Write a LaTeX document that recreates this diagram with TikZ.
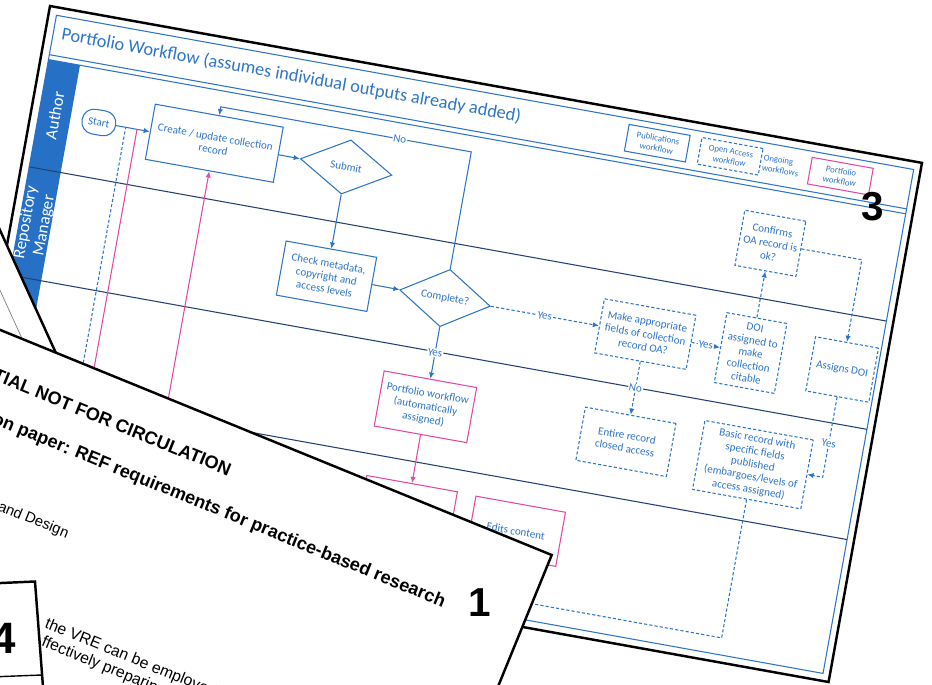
\documentclass[tikz,border=0pt]{standalone}
\usepackage{fontspec}
\setmainfont{Carlito}
\newfontfamily\docfont{Liberation Sans}
\usetikzlibrary{shapes.geometric,arrows.meta}
\definecolor{wfblue}{RGB}{46,117,200}
\definecolor{lanefill}{RGB}{38,112,198}
\definecolor{laneline}{RGB}{35,65,115}
\definecolor{wfpink}{RGB}{226,72,165}
\begin{document}
\begin{tikzpicture}[x=0.02cm,y=-0.02cm,
  wfbox/.style={draw=wfblue,line width=0.6pt,fill=white,text=wfblue,align=center,
    font=\fontsize{6.3}{7.3}\selectfont,inner sep=1pt},
  oabox/.style={wfbox,dash pattern=on 1.8pt off 1.2pt},
  pinkbox/.style={wfbox,draw=wfpink},
  decision/.style={wfbox,diamond,inner sep=0pt},
  legendbox/.style={wfbox,font=\fontsize{5}{5.8}\selectfont,minimum width=12.4mm,minimum height=5.4mm},
  flow/.style={draw=wfblue,line width=0.6pt,-{Latex[length=3.5pt,width=3pt]}},
  oaflow/.style={flow,dash pattern=on 1.8pt off 1.2pt},
  pinkflow/.style={flow,draw=wfpink},
  lbl/.style={fill=white,text=wfblue,inner sep=0.5pt,font=\fontsize{6.3}{7}\selectfont},
  lanetext/.style={text=white,align=center,font=\fontsize{9.6}{10.6}\selectfont},
  pagenum/.style={font=\docfont\bfseries\fontsize{23}{23}\selectfont,inner sep=0pt},
  doctitle/.style={font=\docfont\bfseries\fontsize{10.3}{12}\selectfont,inner sep=0pt},
  doctext/.style={font=\docfont\fontsize{9}{11}\selectfont,inner sep=0pt}]
\useasboundingbox (0,0) rectangle (932,685);
\fill[white] (0,0) rectangle (932,685);

%Page 3
\begin{scope}[shift={(50,6)},rotate=-10.2,transform shape]
%Outer box
\draw[line width=1.4pt,fill=white] (0,0) rectangle (886,527.5);
%Inner frame
\draw[wfblue,line width=0.6pt] (8,8) rectangle (879,520);
\draw[wfblue,line width=0.6pt] (8,48)--(879,48) (8,53)--(879,53);
\node[anchor=west,text=wfblue,font=\fontsize{10.4}{12}\selectfont] (title) at (10.5,26)
  {Portfolio Workflow (assumes individual outputs already added)};

%Lanes
\fill[lanefill] (8,53) rectangle (40,520);
\draw[laneline,line width=0.6pt] (8,162)--(879,162) (8,272)--(879,272) (8,384)--(879,384);
\node[lanetext,rotate=90] (author) at (24,107) {Author};
\node[lanetext,rotate=90] (repman) at (24,217) {Repository\\Manager};

%Legend
\node[legendbox] (pubs) at (622,27.5) {Publications\\workflow};
\node[legendbox,dash pattern=on 1.8pt off 1.2pt] (oaleg) at (696,27.5) {Open Access\\workflow};
\node[anchor=west,align=left,text=wfblue,font=\fontsize{5}{5.8}\selectfont,inner sep=0pt] (ongoing) at (729,27.5) {Ongoing\\workflows};
\node[legendbox,draw=wfpink] (portleg) at (808,27.5) {Portfolio\\workflow};

%Author lane
\node[wfbox,rounded corners=2.4mm,minimum width=6.8mm,minimum height=5mm] (start) at (68.7,106) {Start};
\node[wfbox,minimum width=26mm,minimum height=11.2mm] (create) at (186,106) {Create / update collection\\record};
\node[decision,minimum width=18.6mm,minimum height=11mm] (submit) at (320,106) {Submit};

%Repository manager lane
\node[wfbox,minimum width=18.4mm,minimum height=11mm] (check) at (320,217) {Check metadata,\\copyright and\\access levels};
\node[decision,minimum width=18.4mm,minimum height=11mm] (complete) at (440.5,217.5) {Complete?};
\node[oabox,minimum width=18.6mm,minimum height=11mm] (makeoa) at (644,217.5) {Make appropriate\\fields of collection\\record OA?};
\node[oabox,minimum width=12.2mm,minimum height=14.2mm] (doi) at (751,217.5) {DOI\\assigned to\\make\\collection\\citable};
\node[oabox,minimum width=12.4mm,minimum height=11.2mm] (confirms) at (751,106) {Confirms\\OA record is\\ok?};
\node[oabox,minimum width=12.8mm,minimum height=11mm] (assigns) at (844,217.5) {Assigns DOI};

%Third lane
\node[pinkbox,minimum width=18.8mm,minimum height=11.2mm] (portwf) at (440.5,328) {Portfolio workflow\\(automatically\\assigned)};
\node[oabox,minimum width=18.4mm,minimum height=10.8mm] (entire) at (644,327) {Entire record\\closed access};
\node[oabox,minimum width=22mm,minimum height=14mm] (basic) at (773,327) {Basic record with\\specific fields\\published\\(embargoes/levels of\\access assigned)};

%Fourth lane
\node[pinkbox,minimum width=18.4mm,minimum height=11.2mm] (portbox) at (441,434) {};
\node[pinkbox,minimum width=18.2mm,minimum height=11mm] (edits) at (551.5,434.5) {Edits content};

%Links
\coordinate (loopR) at (440.5,69);
\coordinate (loopL) at (186,69);
\coordinate (oaBR) at (773,503);
\coordinate (oaBL) at (96,503);
\coordinate (oaTop) at (96,106);
\coordinate (pinkA) at (107.5,470);
\coordinate (pinkAtop) at (107.5,106);
\coordinate (pinkB) at (186,470);
\draw[flow] (start) -- (create);
\draw[flow] (create) -- (submit);
\draw[flow] (submit) -- (check);
\draw[flow] (check) -- (complete);
\draw[flow] (complete.north) -- (loopR) -- node[lbl,pos=0.285] {No} (loopL) -- (create.north);
\draw[oaflow] (complete) -- node[lbl] {Yes} (makeoa);
\draw[oaflow] (makeoa) -- node[lbl] {Yes} (doi);
\draw[oaflow] (doi) -- (confirms);
\draw[oaflow] (confirms.east) -| (assigns.north);
\draw[oaflow] (assigns.south) |- node[lbl,pos=0.29] {Yes} (basic.east);
\draw[oaflow] (makeoa) -- node[lbl] {No} (entire);
\draw[flow] (complete) -- node[lbl] {Yes} (portwf);
\draw[pinkflow] (portwf) -- (portbox);
\draw[draw=wfblue,line width=0.6pt,dash pattern=on 1.8pt off 1.2pt] (basic.south) -- (oaBR) -- (oaBL) -- (oaTop);
\draw[draw=wfpink,line width=0.6pt] (pinkA) -- (pinkAtop);
\draw[pinkflow] (pinkB) -- (create.south);
\end{scope}
\node[pagenum] (num3) at (873,207) {3};

%Page 2
\fill[white] (-10,208.2) -- (70,384) -- (-10,384) -- cycle;
\draw[line width=1.4pt] (-10,208.2) -- (70,384);
\draw[gray,line width=0.4pt] (-5,279.3) -- (30,356);

%Page 1
\begin{scope}[shift={(551.7,555)},rotate=-22.2,transform shape]
\draw[line width=1.4pt,fill=white] (-750,0) rectangle (0,400);
\node[doctitle] (conf) at (-457,43) {TIAL NOT FOR CIRCULATION};
\node[doctitle] (paper) at (-325,85) {on paper: REF requirements for practice-based research};
\node[doctext,font=\docfont\fontsize{8.4}{10}\selectfont] (dept) at (-493,164) {and Design};
\node[doctext,anchor=base west] (vre1) at (-443,259) {the VRE can be employed};
\node[doctext,anchor=base west] (vre2) at (-439,277) {ffectively preparing};
\end{scope}
\node[pagenum] (num1) at (480,603) {1};

%Page 4
\draw[line width=1.4pt,fill=white] (-10,583.5) -- (35,581.5) -- (44,700) -- (-10,700) -- cycle;
\draw[line width=0.8pt] (-10,677) -- (42,675);
\node[pagenum,font=\docfont\bfseries\fontsize{25}{25}\selectfont] (num4) at (4,638) {4};
\end{tikzpicture}
\end{document}
